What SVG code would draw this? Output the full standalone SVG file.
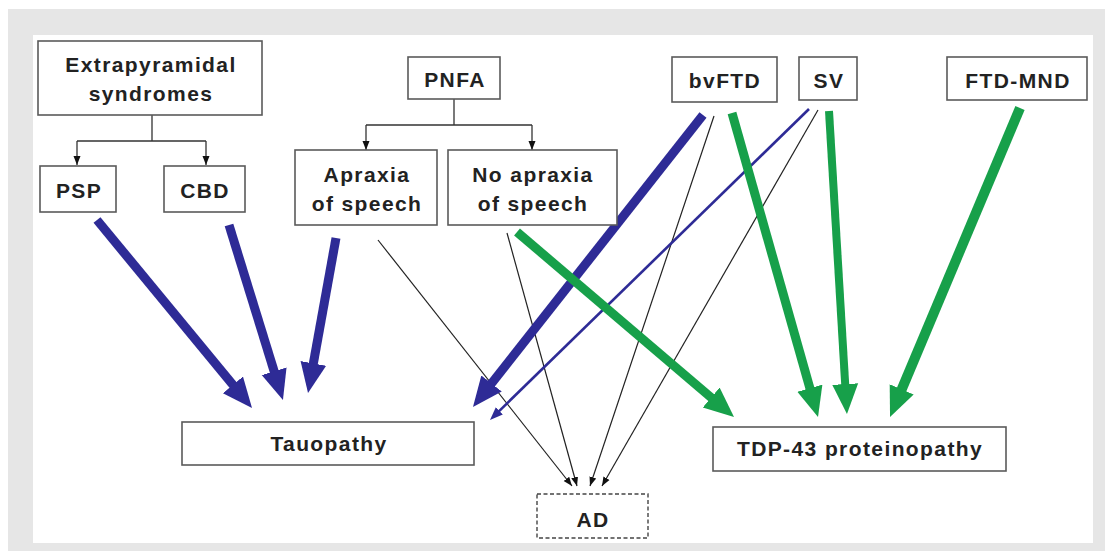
<svg xmlns="http://www.w3.org/2000/svg" width="1105" height="551" viewBox="0 0 1105 551">
<style>
.box{fill:#fff;stroke:#5a5a5a;stroke-width:1.6}
.dash{fill:#fff;stroke:#444;stroke-width:1.4;stroke-dasharray:4 2.5}
.t{font-family:"Liberation Sans",Arial,sans-serif;font-weight:bold;font-size:21px;letter-spacing:1.4px;fill:#222;text-anchor:middle}
.tree{fill:none;stroke:#333;stroke-width:1.3}
.blue{fill:none;stroke:#2e2b96;stroke-width:9}
.bluethin{fill:none;stroke:#2e2b96;stroke-width:2.6}
.green{fill:none;stroke:#17a04a;stroke-width:9}
.black{fill:none;stroke:#222;stroke-width:1.2}
</style>
<defs>
<marker id="hb" markerUnits="userSpaceOnUse" viewBox="0 -14 32 28" markerWidth="32" markerHeight="28" refX="2" refY="0" orient="auto"><path d="M0,-13 L30,0 L0,13 z" fill="#2e2b96"/></marker>
<marker id="hg" markerUnits="userSpaceOnUse" viewBox="0 -14 32 28" markerWidth="32" markerHeight="28" refX="2" refY="0" orient="auto"><path d="M0,-13 L30,0 L0,13 z" fill="#17a04a"/></marker>
<marker id="hbt" markerUnits="userSpaceOnUse" viewBox="0 -6 14 12" markerWidth="14" markerHeight="12" refX="1" refY="0" orient="auto"><path d="M0,-5 L13,0 L0,5 z" fill="#2e2b96"/></marker>
<marker id="hk" markerUnits="userSpaceOnUse" viewBox="0 -4 9 8" markerWidth="9" markerHeight="8" refX="9" refY="0" orient="auto"><path d="M0,-3.5 L9,0 L0,3.5 z" fill="#111"/></marker>
</defs>
<rect x="0" y="0" width="1105" height="551" fill="#fff"/>
<rect x="8" y="9" width="1097" height="542" fill="#e6e6e6"/>
<rect x="33" y="35" width="1060" height="508" fill="#fff"/>

<g id="connectors">
<path class="tree" d="M152,115 V141 M77,141 H206"/>
<path class="tree" d="M77,141 V165" marker-end="url(#hk)"/>
<path class="tree" d="M206,141 V165" marker-end="url(#hk)"/>
<path class="tree" d="M454,99 V125 M366,125 H532"/>
<path class="tree" d="M366,125 V150" marker-end="url(#hk)"/>
<path class="tree" d="M532,125 V150" marker-end="url(#hk)"/>

<line class="black" x1="378" y1="240" x2="572" y2="486" marker-end="url(#hk)"/>
<line class="black" x1="507" y1="233" x2="577" y2="486" marker-end="url(#hk)"/>
<line class="black" x1="714" y1="116" x2="590" y2="486" marker-end="url(#hk)"/>
<line class="black" x1="818" y1="110" x2="602" y2="486" marker-end="url(#hk)"/>

<line class="blue" x1="97" y1="220" x2="234.2" y2="386.4" marker-end="url(#hb)"/>
<line class="blue" x1="229" y1="225" x2="274.7" y2="373.2" marker-end="url(#hb)"/>
<line class="blue" x1="336" y1="238" x2="313" y2="365.4" marker-end="url(#hb)"/>
<line class="blue" x1="703" y1="115" x2="490.3" y2="385" marker-end="url(#hb)"/>
<line class="bluethin" x1="809" y1="109" x2="498.6" y2="411.6" marker-end="url(#hbt)"/>

<line class="green" x1="517" y1="232" x2="712.7" y2="398.8" marker-end="url(#hg)"/>
<line class="green" x1="732" y1="113" x2="810.4" y2="390.1" marker-end="url(#hg)"/>
<line class="green" x1="829" y1="111" x2="845.3" y2="386.1" marker-end="url(#hg)" style="stroke-width:8"/>
<line class="green" x1="1020" y1="108" x2="900.9" y2="391.2" marker-end="url(#hg)" style="stroke-width:10"/>
</g>

<g id="extrapyramidal"><rect class="box" x="38" y="41" width="224" height="74"/><text class="t" x="151" y="72">Extrapyramidal</text><text class="t" x="151" y="101">syndromes</text></g>
<g id="psp"><rect class="box" x="40" y="166" width="76" height="46"/><text class="t" x="79" y="198">PSP</text></g>
<g id="cbd"><rect class="box" x="164" y="166" width="81" height="46"/><text class="t" x="205" y="198">CBD</text></g>
<g id="pnfa"><rect class="box" x="408" y="57" width="92" height="42"/><text class="t" x="455" y="87">PNFA</text></g>
<g id="apraxia"><rect class="box" x="295" y="150" width="142" height="75"/><text class="t" x="367" y="182">Apraxia</text><text class="t" x="367" y="211">of speech</text></g>
<g id="noapraxia"><rect class="box" x="448" y="150" width="169" height="75"/><text class="t" x="533" y="182">No apraxia</text><text class="t" x="533" y="211">of speech</text></g>
<g id="bvftd"><rect class="box" x="672" y="57" width="105" height="45"/><text class="t" x="725" y="88">bvFTD</text></g>
<g id="sv"><rect class="box" x="799" y="57" width="58" height="43"/><text class="t" x="829" y="88">SV</text></g>
<g id="ftdmnd"><rect class="box" x="947" y="57" width="140" height="43"/><text class="t" x="1018" y="88">FTD-MND</text></g>
<g id="tauopathy"><rect class="box" x="182" y="422" width="292" height="43"/><text class="t" x="329" y="451">Tauopathy</text></g>
<g id="tdp43"><rect class="box" x="713" y="427" width="293" height="44"/><text class="t" x="860" y="456">TDP-43 proteinopathy</text></g>
<g id="ad"><rect class="dash" x="537" y="494" width="111" height="44"/><text class="t" x="593" y="527">AD</text></g>
</svg>
